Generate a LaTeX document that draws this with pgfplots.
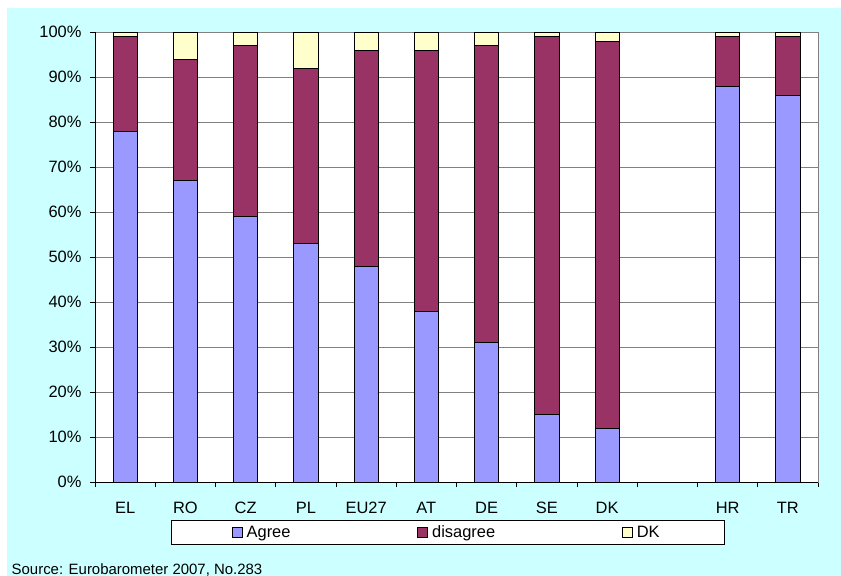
\documentclass[border=0pt]{standalone}
\usepackage{pgfplots}
\pgfplotsset{compat=1.18}
\usepackage{fontspec}
\setmainfont{Liberation Sans}
\definecolor{bgcyan}{HTML}{CCFFFF}
\definecolor{agreec}{HTML}{9999FF}
\definecolor{disc}{HTML}{993366}
\definecolor{dkc}{HTML}{FFFFCC}
\definecolor{gridc}{HTML}{808080}
\begin{document}
\begin{tikzpicture}
\useasboundingbox (0,0) rectangle (841bp,-576bp);
\fill[white] (0,0) rectangle (841bp,-576bp);
\fill[bgcyan] (7bp,-8bp) rectangle (841bp,-576bp);
\begin{axis}[
  at={(95bp,-482bp)}, anchor=south west,
  scale only axis, width=723bp, height=450bp,
  ybar stacked, bar width=0.4,
  xmin=-0.5, xmax=11.5, ymin=0, ymax=100,
  axis background/.style={fill=white},
  axis line style={draw=gridc, line width=0.8bp},
  xtick={0,1,2,3,4,5,6,7,8,10,11},
  xticklabels={EL,RO,CZ,PL,EU27,AT,DE,SE,DK,HR,TR},
  minor xtick={-0.5,0.5,...,11.5},
  major x tick style={draw=none},
  minor x tick style={draw=black, line width=0.8bp},
  minor tick length=5bp, major tick length=5bp,
  tick align=outside,
  xtick pos=bottom, ytick pos=left,
  ytick={0,10,...,100},
  y tick style={draw=black, line width=0.8bp},
  yticklabel={\pgfmathprintnumber{\tick}\%},
  /pgf/number format/assume math mode=true,
  ymajorgrids, grid style={draw=gridc, line width=0.8bp},
  tick label style={font=\fontsize{16.5}{19}\selectfont},
  xticklabel style={text height=12bp, text depth=0bp, yshift=-11bp},
  yticklabel style={xshift=-5bp},
  legend columns=3,
  legend style={at={(0.488,-0.0844)}, anchor=north, draw=black, fill=white,
    line width=0.8bp, font=\fontsize{16.5}{19}\selectfont,
    inner xsep=60bp, inner ysep=3.5bp,
    nodes={inner xsep=4.5bp},
    /tikz/every even column/.append style={column sep=122bp}},
  legend image code/.code={\draw[#1, draw=black, line width=0.6bp] (0bp,-5bp) rectangle (10bp,5bp);},
  every axis plot/.append style={draw=black, line width=0.8bp},
]
\addplot[fill=agreec] coordinates {(0,78)(1,67)(2,59)(3,53)(4,48)(5,38)(6,31)(7,15)(8,12)(10,88)(11,86)};
\addplot[fill=disc] coordinates {(0,21)(1,27)(2,38)(3,39)(4,48)(5,58)(6,66)(7,84)(8,86)(10,11)(11,13)};
\addplot[fill=dkc] coordinates {(0,1)(1,6)(2,3)(3,8)(4,4)(5,4)(6,3)(7,1)(8,2)(10,1)(11,1)};
\legend{Agree,disagree,DK}
\draw[black, line width=0.8bp] (rel axis cs:0,1) -- (rel axis cs:0,0) -- (rel axis cs:1,0);
\end{axis}
\node[anchor=base west, inner sep=0pt, font=\fontsize{15}{17}\selectfont] at (11.5bp,-574bp) {Source: Eurobarometer 2007, No.283};
\end{tikzpicture}
\end{document}
